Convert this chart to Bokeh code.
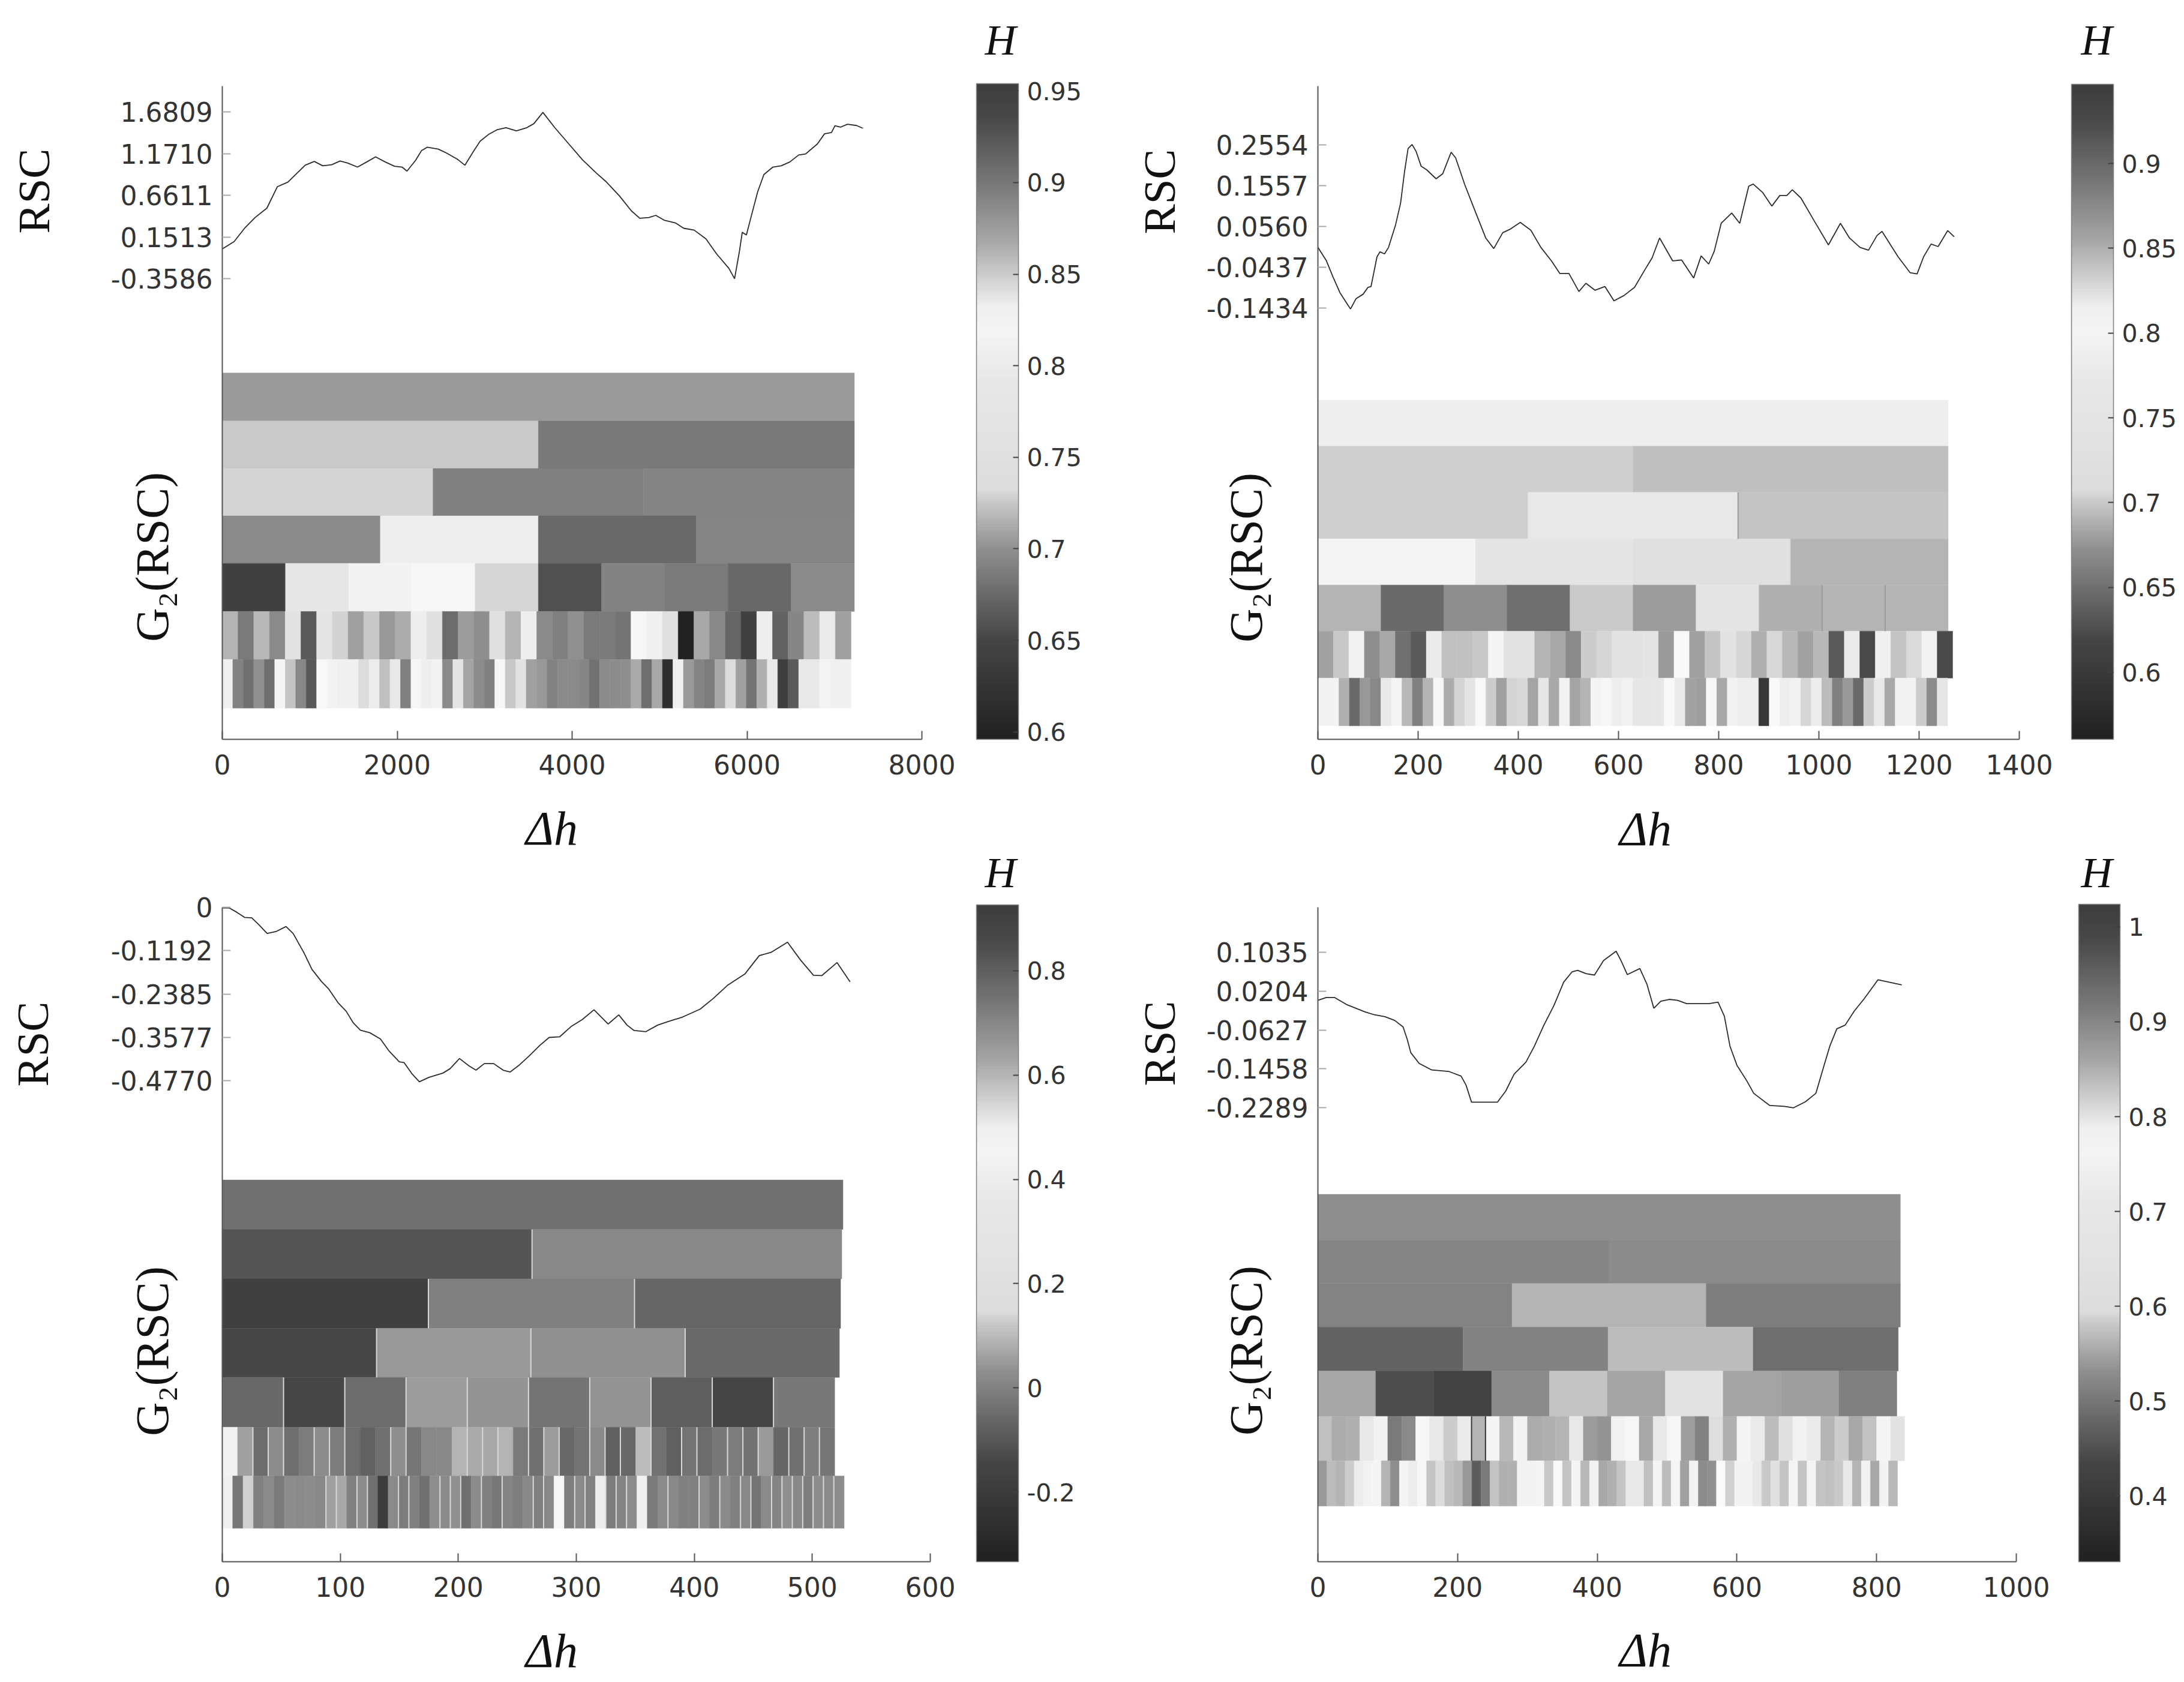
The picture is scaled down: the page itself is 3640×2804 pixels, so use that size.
import math
import numpy as np
from bokeh.embed import file_html
from bokeh.resources import INLINE
from bokeh.layouts import column, row
from bokeh.models import ColorBar, FixedTicker, Label, LinearColorMapper, Range1d
from bokeh.plotting import figure

TICK_COLOR = "#333333"
AXIS_COLOR = "#555555"

# ---- RSC curves -------------------------------------------------------------
p1_x = [0,135,255,375,510,630,750,853,948,1052,1148,1251,1347,1435,1546,1650,1753,1865,1969,2056,2112,2208,2279,2343,2471,2566,2686,2774,2869,2949,3045,3140,3244,3363,3483,3563,3666,3802,3961,4120,4280,4384,4543,4678,4774,4878,4957,5053,5181,5276,5396,5531,5651,5794,5858,5914,5946,5993,6057,6121,6193,6296,6392,6488,6591,6671,6806,6886,6966,7006,7069,7149,7253,7324]
p1_y = [0.006,0.095,0.259,0.390,0.505,0.768,0.824,0.932,1.031,1.077,1.024,1.037,1.083,1.057,1.008,1.070,1.133,1.070,1.018,1.008,0.959,1.087,1.211,1.251,1.228,1.179,1.106,1.031,1.195,1.326,1.408,1.464,1.491,1.451,1.491,1.540,1.678,1.491,1.293,1.096,0.932,0.834,0.653,0.472,0.381,0.390,0.417,0.358,0.325,0.259,0.236,0.128,-0.053,-0.234,-0.359,-0.020,0.210,0.177,0.440,0.702,0.916,1.008,1.024,1.070,1.156,1.169,1.293,1.415,1.431,1.514,1.497,1.533,1.517,1.484]
p2_x = [0,17,30,44,65,76,90,100,106,118,124,133,141,155,165,173,180,188,196,206,217,236,249,266,275,293,314,335,351,369,383,404,425,445,466,483,501,521,535,553,573,591,611,632,657,667,682,708,726,750,765,780,791,805,826,842,860,869,888,906,922,936,947,964,992,1019,1043,1061,1082,1099,1116,1126,1158,1182,1196,1209,1224,1238,1257,1270]
p2_y = [0.005,-0.028,-0.067,-0.106,-0.146,-0.121,-0.110,-0.093,-0.091,-0.018,-0.006,-0.011,0.005,0.060,0.113,0.191,0.247,0.257,0.240,0.204,0.195,0.173,0.185,0.238,0.224,0.159,0.093,0.028,0.002,0.041,0.049,0.066,0.047,0.005,-0.028,-0.059,-0.059,-0.103,-0.083,-0.100,-0.091,-0.126,-0.113,-0.093,-0.041,-0.021,0.028,-0.028,-0.026,-0.070,-0.016,-0.036,-0.005,0.064,0.089,0.064,0.155,0.160,0.139,0.106,0.132,0.132,0.146,0.126,0.067,0.011,0.064,0.028,0.005,-0.002,0.034,0.044,-0.018,-0.057,-0.060,-0.018,0.013,0.007,0.046,0.031]
p3_x = [0,6,12,19,25,31,38,46,54,60,69,76,84,90,98,105,111,117,125,134,141,150,154,161,167,175,187,193,201,209,215,222,230,238,244,252,260,269,277,286,296,305,315,327,336,343,349,359,369,378,390,405,416,428,443,455,465,479,490,501,508,521,532]
p3_y = [-0.002,-0.002,-0.013,-0.028,-0.029,-0.048,-0.072,-0.066,-0.053,-0.072,-0.124,-0.171,-0.204,-0.224,-0.262,-0.286,-0.318,-0.338,-0.345,-0.362,-0.394,-0.425,-0.427,-0.459,-0.480,-0.468,-0.456,-0.444,-0.416,-0.436,-0.448,-0.430,-0.430,-0.448,-0.453,-0.433,-0.409,-0.380,-0.358,-0.356,-0.327,-0.309,-0.282,-0.321,-0.296,-0.324,-0.339,-0.342,-0.324,-0.314,-0.302,-0.280,-0.251,-0.215,-0.183,-0.133,-0.124,-0.096,-0.145,-0.187,-0.188,-0.152,-0.205]
p4_x = [0,12,24,41,68,81,96,110,122,128,133,145,163,187,205,212,220,257,269,281,298,310,323,338,352,364,372,384,396,409,427,434,443,461,471,481,491,503,515,528,560,573,582,590,600,614,624,647,668,681,698,713,723,733,743,755,768,782,802,817,836]
p4_y = [0.001,0.007,0.007,-0.008,-0.024,-0.030,-0.034,-0.042,-0.056,-0.083,-0.111,-0.134,-0.148,-0.151,-0.161,-0.180,-0.217,-0.217,-0.193,-0.157,-0.131,-0.097,-0.054,-0.010,0.040,0.062,0.065,0.058,0.055,0.086,0.106,0.086,0.056,0.069,0.036,-0.016,-0.001,0.003,0.001,-0.006,-0.006,-0.003,-0.033,-0.097,-0.138,-0.171,-0.198,-0.224,-0.226,-0.229,-0.216,-0.198,-0.147,-0.097,-0.060,-0.052,-0.022,0.004,0.045,0.040,0.034]

# ---- G2(RSC) rows: gray level of every cell, top row first ---------------------
p1_rows = [
    [0x9a],
    [0xc9, 0x79],
    [0xd4, 0x80, 0x84],
    [0x8a, 0xee, 0x69, 0x85],
    [0x40, 0xe6, 0xf2, 0xf6, 0xd6, 0x50, 0x82, 0x7a, 0x68, 0x8a],
    [0xb4,0x7a,0xb8,0x8a,0xe2,0x5a,0xe4,0xd2,0xa0,0xc8,0x98,0xac,0xee,0xe0,0x6c,0x9c,0x8e,0xe0,0xb4,0xee,0x8a,0x80,0x90,0x7a,0x7a,0x74,0xf6,0xf0,0xe0,0x22,0xa8,0x88,0x66,0x40,0xee,0x62,0x86,0xbc,0xea,0xa0],
    [0xf0,0x82,0x70,0x90,0x6e,0xf4,0xc4,0x88,0x58,0xf8,0xf2,0xf0,0xf0,0xdc,0xec,0xc0,0xe8,0x80,0xf6,0xee,0xf2,0x8a,0xe4,0xa4,0x8c,0x80,0xf6,0xc8,0xe2,0xa0,0x98,0x82,0x8a,0x8a,0x86,0x72,0x8a,0x8c,0x8e,0xaa,0x6e,0xa8,0x2e,0xf0,0x9a,0x84,0x7c,0xa8,0xdc,0xa0,0x74,0xb0,0xe8,0x3e,0x5a,0xe8,0xe8,0xf4,0xf0,0xf0],
]
p2_rows = [
    [0xee],
    [0xcf, 0xbf],
    [0xcf, 0xe8, 0xc4],
    [0xf4, 0xe4, 0xe0, 0xb4],
    [0xb4, 0x6a, 0x8e, 0x6e, 0xca, 0x9c, 0xe4, 0xb0, 0xb4, 0xb4],
    [0xa2,0xc8,0xf2,0x8e,0xa8,0x70,0x5a,0xea,0xc0,0xc0,0xc8,0xf4,0xe2,0xe2,0xb4,0xa8,0x8a,0xcc,0xd6,0xe2,0xe2,0xe4,0x9a,0xf8,0xa0,0xc4,0xe2,0xd6,0xb0,0xd8,0xb8,0xa2,0xb8,0x5a,0xea,0x4a,0xf0,0xc4,0xda,0xf2,0x4a],
    [0xf2,0xf2,0xb0,0x6a,0x98,0x88,0xe8,0xf4,0xb8,0x80,0xb4,0xf6,0xac,0xd4,0xe4,0xf8,0xcc,0xa0,0xd4,0xd8,0xa4,0xe6,0xa8,0xf2,0xa4,0xb4,0xf4,0xf6,0xee,0xf2,0xe6,0xe6,0xe6,0xf8,0xea,0xa2,0x9e,0xf6,0xa8,0xf2,0xee,0xee,0x38,0xf8,0xee,0xf2,0xd6,0xec,0xbc,0x80,0x98,0x6a,0xcc,0xe8,0xa8,0xf2,0xf2,0xcc,0x8c,0xe6],
]
p3_rows = [
    [0x70],
    [0x55, 0x88],
    [0x40, 0x80, 0x66],
    [0x47, 0x98, 0x90, 0x6a],
    [0x68, 0x46, 0x6c, 0x9c, 0x94, 0x74, 0x94, 0x5e, 0x44, 0x78],
    [0xf2,0xa0,0x6c,0x8c,0x6e,0x7c,0x8c,0x7c,0x6e,0x62,0x70,0x8e,0x76,0x88,0x88,0xb4,0xaa,0xa8,0xb4,0x7a,0x70,0x9c,0x68,0x74,0x8a,0x60,0x68,0xbc,0x72,0x60,0x74,0x6c,0x78,0x7c,0x72,0x9a,0x66,0x70,0x7e,0x76],
    [0xf0,0x77,0xd0,0x80,0x8a,0x7a,0x8c,0x8a,0x8c,0x88,0xa0,0xa8,0x80,0x8c,0x70,0x3c,0x8a,0x7c,0x80,0x70,0x8e,0x8a,0x90,0x70,0x8a,0x80,0x78,0x84,0x7e,0x88,0x80,0x88,0xf6,0x7e,0x8a,0x80,0xec,0x7c,0x84,0x8c,0xf0,0x7a,0x8a,0x88,0x80,0x80,0x8c,0x7c,0x8a,0x80,0x88,0x74,0x8a,0x84,0x8e,0x88,0x7e,0x8c,0x8a,0x8c],
]
p4_rows = [
    [0x8e],
    [0x85, 0x8a],
    [0x83, 0xb4, 0x7e],
    [0x63, 0x82, 0xbc, 0x6e],
    [0xa6, 0x4e, 0x42, 0x8a, 0xc4, 0xa4, 0xe2, 0xa4, 0x9e, 0x80],
    [0xc0,0xac,0xb0,0xe8,0xf2,0x7a,0x8a,0xf6,0xe8,0xcc,0xea,0xb4,0xf4,0xb8,0xf2,0xac,0xb0,0xb4,0xe8,0x9c,0x94,0xf2,0xf6,0xa8,0xe8,0xf6,0x9e,0x82,0xde,0xb0,0xf4,0xea,0xbc,0xe0,0xf2,0xea,0xb4,0xcc,0xa8,0xc2,0xf4,0xe2],
    [0x9a,0xbc,0xb4,0xcc,0xec,0xf2,0xf4,0xb4,0x8e,0xf4,0xec,0xf6,0xc4,0xdc,0xc0,0xb8,0x98,0x5c,0x7a,0xc4,0xb0,0xb0,0xf2,0xf2,0xf4,0xc8,0xf8,0xc4,0xf4,0xb8,0xf2,0xa8,0xb0,0xc4,0xe8,0xe8,0xc0,0xf4,0xbc,0xf4,0xa0,0xf2,0x8c,0x90,0xfa,0xd0,0xf2,0xf2,0xe8,0xc8,0xe0,0xc4,0xf4,0xc4,0xf4,0xc4,0xc0,0xc8,0xe8,0xb4,0xf2,0xa8,0xf2,0xb8],
]
# x extent of each row, and y edges of the rows, in axis units
p1_row_ends = [7228, 7228, 7228, 7228, 7228, 7190, 7190]
p2_row_ends = [1258, 1258, 1258, 1258, 1258, 1267, 1257]
p3_row_ends = [526, 525, 524, 523, 519, 519, 527]
p4_row_ends = [834, 834, 834, 831, 829, 840, 830]
p1_row_edges = [-1.513, -2.101, -2.683, -3.264, -3.845, -4.434, -5.022, -5.618]
p2_row_edges = [-0.369, -0.482, -0.595, -0.709, -0.822, -0.935, -1.050, -1.167]
p3_row_edges = [-0.750, -0.886, -1.022, -1.158, -1.293, -1.430, -1.564, -1.708]
p4_row_edges = [-0.414, -0.512, -0.605, -0.698, -0.792, -0.889, -0.984, -1.081]

# thin separators: row index -> cell boundaries
p2_gray_seps = {2: [2], 4: [8, 9]}
p3_light_seps = {
    1: [1], 2: [1, 2], 3: [1, 2, 3], 4: [1, 2, 3, 4, 5, 6, 7, 8, 9],
    5: [2,3,4,6,7,8,11,12,16,17,18,20,21,22,24,25,26,28,30,31,33,34,35,37,38,39],
    6: [10,11,13,14,17,18,21,22,23,25,27,30,31,34,35,37,38,39,43,46,48,50,51,53,54,55,56,57,58,59],
}
p4_dark_seps = {5: [11, 12]}

# ---- axes --------------------------------------------------------------------
p1_yticks = [-0.3586, 0.1513, 0.6611, 1.1710, 1.6809]
p1_ylabels = ["-0.3586", "0.1513", "0.6611", "1.1710", "1.6809"]
p2_yticks = [-0.1434, -0.0437, 0.0560, 0.1557, 0.2554]
p2_ylabels = ["-0.1434", "-0.0437", "0.0560", "0.1557", "0.2554"]
p3_yticks = [-0.4770, -0.3577, -0.2385, -0.1192, 0.0]
p3_ylabels = ["-0.4770", "-0.3577", "-0.2385", "-0.1192", "0"]
p4_yticks = [-0.2289, -0.1458, -0.0627, 0.0204, 0.1035]
p4_ylabels = ["-0.2289", "-0.1458", "-0.0627", "0.0204", "0.1035"]
p1_xticks = [0, 2000, 4000, 6000, 8000]
p2_xticks = [0, 200, 400, 600, 800, 1000, 1200, 1400]
p3_xticks = [0, 100, 200, 300, 400, 500, 600]
p4_xticks = [0, 200, 400, 600, 800, 1000]
p1_cticks = [0.6, 0.65, 0.7, 0.75, 0.8, 0.85, 0.9, 0.95]
p1_clabels = ["0.6", "0.65", "0.7", "0.75", "0.8", "0.85", "0.9", "0.95"]
p2_cticks = [0.6, 0.65, 0.7, 0.75, 0.8, 0.85, 0.9]
p2_clabels = ["0.6", "0.65", "0.7", "0.75", "0.8", "0.85", "0.9"]
p3_cticks = [-0.2, 0.0, 0.2, 0.4, 0.6, 0.8]
p3_clabels = ["-0.2", "0", "0.2", "0.4", "0.6", "0.8"]
p4_cticks = [0.4, 0.5, 0.6, 0.7, 0.8, 0.9, 1.0]
p4_clabels = ["0.4", "0.5", "0.6", "0.7", "0.8", "0.9", "1"]

# colormap of all four bars: position along the bar -> gray level
cmap_pos = [0, 0.15, 0.22, 0.29, 0.33, 0.36, 0.38, 0.45, 0.55, 0.62, 0.66, 0.70, 0.76, 0.85, 0.95, 1]
cmap_gray = [0x22, 0x46, 0x6a, 0x90, 0xb0, 0xc8, 0xdc, 0xe2, 0xe8, 0xf4, 0xf0, 0xd4, 0xa8, 0x78, 0x48, 0x3e]
levels = np.interp(np.linspace(0, 1, 256), cmap_pos, cmap_gray).astype(int)
PALETTE = ["#%02x%02x%02x" % (g, g, g) for g in levels]

# how far each stacked side panel of labels starts from the frame
RSC_PANEL_LEFT = 266
G2_PANEL_LEFT = 350
DH_PANEL_BOTTOM = 151


def gray(g):
    return "#%02x%02x%02x" % (g, g, g)


def panel(fig_origin, fig_size, frame, xlim, ylim, xticks, yticks, ylabels, lx, ly, rows, ends, edges,
          bar, clim, cticks, clabels, rsc_xy, g2_xy, h_xy, dh_xy, seps=None, sep_color="#d8d8d8"):
    ox, oy = fig_origin
    w, h = fig_size
    fl, ft, fr, fb = frame
    p = figure(width=w, height=h, output_backend="svg", toolbar_location=None,
               x_range=Range1d(*xlim), y_range=Range1d(*ylim),
               min_border_left=fl - ox, min_border_right=ox + w - fr,
               min_border_top=ft - oy, min_border_bottom=oy + h - fb,
               outline_line_color=None, background_fill_color="white")
    p.grid.visible = False
    for ax in (p.xaxis[0], p.yaxis[0]):
        ax.axis_line_color = AXIS_COLOR
        ax.axis_line_width = 2
        ax.major_tick_in = 14
        ax.major_tick_out = 0
        ax.minor_tick_line_color = None
        ax.major_tick_line_color = AXIS_COLOR
        ax.major_tick_line_width = 2
        ax.major_label_text_font = "DejaVu Sans"
        ax.major_label_text_font_size = "44px"
        ax.major_label_text_color = TICK_COLOR
    p.xaxis[0].ticker = FixedTicker(ticks=xticks)
    p.xaxis[0].major_label_standoff = 25
    p.yaxis[0].ticker = FixedTicker(ticks=yticks)
    p.yaxis[0].major_label_overrides = dict(zip(yticks, ylabels))
    p.yaxis[0].major_label_standoff = 16
    p.yaxis[0].major_tick_line_color = "#aaaaaa"

    left, right, bottom, top, colors = [], [], [], [], []
    for r, cells in enumerate(rows):
        cw = ends[r] / len(cells)
        for i, g in enumerate(cells):
            left.append(i * cw)
            right.append((i + 1) * cw)
            top.append(edges[r])
            bottom.append(edges[r + 1])
            colors.append(gray(g))
    p.quad(left=left, right=right, bottom=bottom, top=top, fill_color=colors, line_color=colors, line_width=0.5)

    if seps:
        sx, sy0, sy1 = [], [], []
        for r, idx in seps.items():
            cw = ends[r] / len(rows[r])
            for i in idx:
                sx.append(i * cw)
                sy0.append(edges[r])
                sy1.append(edges[r + 1])
        p.segment(x0=sx, x1=sx, y0=sy0, y1=sy1, line_color=sep_color, line_width=2)

    p.line(lx, ly, line_color="#2a2a2a", line_width=1.8)

    mapper = LinearColorMapper(palette=PALETTE, low=clim[0], high=clim[1])
    bl, bt, br, bb = bar
    cb = ColorBar(color_mapper=mapper, ticker=FixedTicker(ticks=cticks),
                  major_label_overrides=dict(zip(cticks, clabels)),
                  location=(bl - fl, fb - bb), width=br - bl, height=bb - bt,
                  margin=0, padding=0, label_standoff=14,
                  major_label_text_font="DejaVu Sans", major_label_text_font_size="41px",
                  major_label_text_color=TICK_COLOR,
                  major_tick_in=9, major_tick_out=0, major_tick_line_color="#404040", major_tick_line_width=2,
                  minor_tick_line_color=None, bar_line_color="#808080", bar_line_width=1.5,
                  border_line_color=None, background_fill_color=None)
    p.add_layout(cb)

    def lab(side, x, y, text, size, style="normal", angle=0.0):
        p.add_layout(Label(x=x, y=y, x_units="screen", y_units="screen", text=text,
                           text_font="Liberation Serif", text_font_size=size, text_font_style=style,
                           text_color="#111111", text_align="center", text_baseline="middle",
                           angle=angle, angle_units="rad"), side)

    lab("left", rsc_xy[0] - (fl - RSC_PANEL_LEFT), fb - rsc_xy[1], "RSC", "75px", angle=math.pi / 2)
    lab("left", g2_xy[0] - (fl - G2_PANEL_LEFT), fb - g2_xy[1], "G\u2082(RSC)", "78px", angle=math.pi / 2)
    lab("above", h_xy[0] - fl, ft - h_xy[1], "H", "72px", style="italic")
    lab("below", dh_xy[0] - fl, (fb + DH_PANEL_BOTTOM) - dh_xy[1], "\u0394h", "80px", style="italic")
    return p


p1 = panel((0, 0), (1826, 1422), (370, 143, 1536, 1233), (0, 8000), (-6, 2), p1_xticks, p1_yticks, p1_ylabels,
           p1_x, p1_y, p1_rows, p1_row_ends, p1_row_edges, (1627, 140, 1697, 1233), (0.596, 0.954), p1_cticks, p1_clabels,
           (62, 319), (262, 929), (1667, 66), (919, 1383))
p2 = panel((1826, 0), (1806, 1422), (2196, 143, 3365, 1232), (0, 1400), (-1.2, 0.4), p2_xticks, p2_yticks, p2_ylabels,
           p2_x, p2_y, p2_rows, p2_row_ends, p2_row_edges, (3452, 140, 3522, 1232), (0.5604, 0.9467), p2_cticks, p2_clabels,
           (1938, 319), (2085, 929), (3494, 66), (2742, 1383), seps=p2_gray_seps, sep_color="#9a9a9a")
p3 = panel((0, 1422), (1826, 1378), (370, 1512, 1550, 2603), (0, 600), (-1.8, 0), p3_xticks, p3_yticks, p3_ylabels,
           p3_x, p3_y, p3_rows, p3_row_ends, p3_row_edges, (1627, 1508, 1697, 2603), (-0.3334, 0.9265), p3_cticks, p3_clabels,
           (60, 1740), (262, 2252), (1667, 1454), (919, 2753), seps=p3_light_seps)
p4 = panel((1826, 1422), (1806, 1378), (2196, 1512, 3360, 2604), (0, 1000), (-1.2, 0.2), p4_xticks, p4_yticks, p4_ylabels,
           p4_x, p4_y, p4_rows, p4_row_ends, p4_row_edges, (3464, 1508, 3533, 2604), (0.3305, 1.024), p4_cticks, p4_clabels,
           (1938, 1740), (2085, 2252), (3494, 1454), (2742, 2753), seps=p4_dark_seps, sep_color="#383838")

page = column(row(p1, p2, spacing=0), row(p3, p4, spacing=0), spacing=0)
open("out.html", "w").write(file_html(page, INLINE))
